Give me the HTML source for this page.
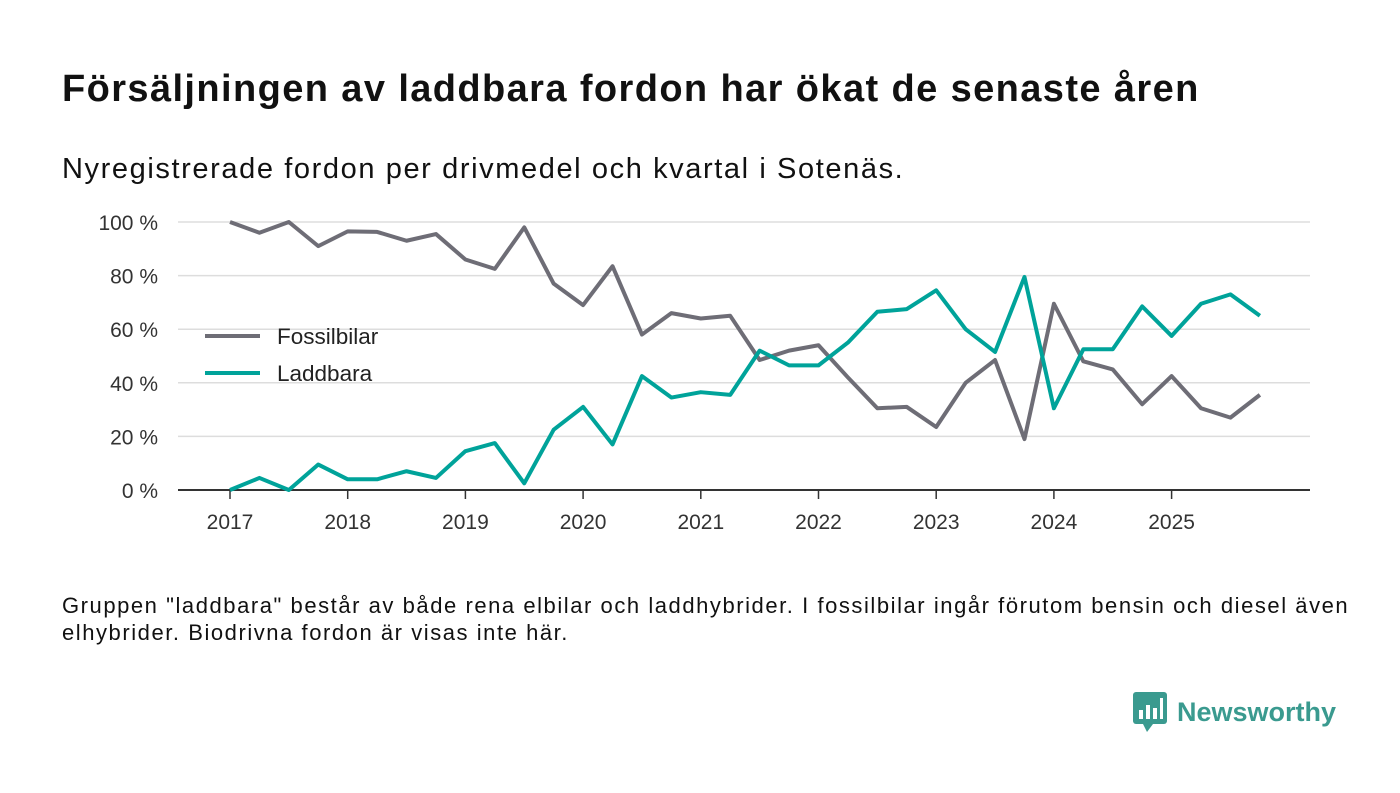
<!DOCTYPE html>
<html><head><meta charset="utf-8"><style>
body{margin:0;width:1400px;height:793px;background:#fff;font-family:"Liberation Sans","DejaVu Sans",sans-serif;color:#111;position:relative;overflow:hidden}
#title{position:absolute;left:62px;top:68px;font-size:38px;letter-spacing:1.4px;font-weight:bold;margin:0;white-space:nowrap}
#sub{position:absolute;left:62px;top:153px;font-size:29px;letter-spacing:1.6px;white-space:nowrap}
#note{position:absolute;left:62px;top:592px;font-size:22px;letter-spacing:1.55px;line-height:27px;white-space:nowrap}
#logo{position:absolute;left:1133px;top:692px;display:flex;align-items:center;gap:10px;color:#3a9a8f;font-size:27px;font-weight:bold}
</style></head><body>
<h1 id="title">Försäljningen av laddbara fordon har ökat de senaste åren</h1>
<div id="sub">Nyregistrerade fordon per drivmedel och kvartal i Sotenäs.</div>
<svg id="chart" width="1400" height="793" style="position:absolute;left:0;top:0"></svg>
<div id="note">Gruppen "laddbara" består av både rena elbilar och laddhybrider. I fossilbilar ingår förutom bensin och diesel även<br>elhybrider. Biodrivna fordon är visas inte här.</div>
<div id="logo"><svg width="34" height="40" viewBox="0 0 34 40"><rect x="0" y="0" width="34" height="32" rx="3" fill="#3a9a8f"/><polygon points="10,32 20,32 14,40" fill="#3a9a8f"/><rect x="6" y="18" width="4" height="9" fill="#fff"/><rect x="13" y="13" width="4" height="14" fill="#fff"/><rect x="20" y="16" width="4" height="11" fill="#fff"/><rect x="27" y="6" width="3" height="21" fill="#fff"/></svg><span>Newsworthy</span></div>
<script>
const years=[2017,2018,2019,2020,2021,2022,2023,2024,2025];
const yTicks=[0,20,40,60,80,100];
const fossil=[100,96,100,91,96.5,96.3,93,95.5,86,82.5,98,77,69,83.5,58,66,64,65,48.5,52,54,42,30.5,31,23.5,40,48.5,19,69.5,48,45,32,42.5,30.5,27,35.5];
const laddbara=[0,4.5,0,9.5,4,4,7,4.5,14.5,17.5,2.5,22.5,31,17,42.5,34.5,36.5,35.5,52,46.5,46.5,55,66.5,67.5,74.5,60,51.5,79.5,30.5,52.5,52.5,68.5,57.5,69.5,73,65];
const seriesNames=["Fossilbilar","Laddbara"];
const NS="http://www.w3.org/2000/svg";
const svg=document.getElementById('chart');
const X=t=>230+t*117.7;
const Y=v=>490-v*2.68;
function mk(tag,a){const e=document.createElementNS(NS,tag);for(const k in a)e.setAttribute(k,a[k]);svg.appendChild(e);return e;}
yTicks.forEach(v=>{
 const l=mk('line',{x1:178,x2:1310,y1:Y(v),y2:Y(v),stroke:v?'#ddd':'#333','stroke-width':v?1.5:2});
 
 
 const t=mk('text',{x:158,y:Y(v)+8,'text-anchor':'end','font-size':21,fill:'#333'});t.textContent=v+' %';
 
 
});
years.forEach((yr,i)=>{
 const l=mk('line',{x1:X(i),x2:X(i),y1:490,y2:499,stroke:'#333','stroke-width':1.5});
 
 
 const t=mk('text',{x:X(i),y:529,'text-anchor':'middle','font-size':21,fill:'#333'});t.textContent=yr;
 
 
});
[[fossil,'#6e6d76'],[laddbara,'#00a39a']].forEach(([d,c],si)=>{
 const p=mk('polyline',{points:d.map((v,i)=>X(i/4)+','+Y(v)).join(' '),fill:'none',stroke:c,'stroke-width':4,'stroke-linejoin':'round'});
 
 
 const ly=336+si*37;
 const l=mk('line',{x1:205,x2:260,y1:ly,y2:ly,stroke:c,'stroke-width':4});
 
 
 const t=mk('text',{x:277,y:ly+8,'font-size':22.5,fill:'#222'});t.textContent=seriesNames[si];
 
 
});
</script>
</body></html>
